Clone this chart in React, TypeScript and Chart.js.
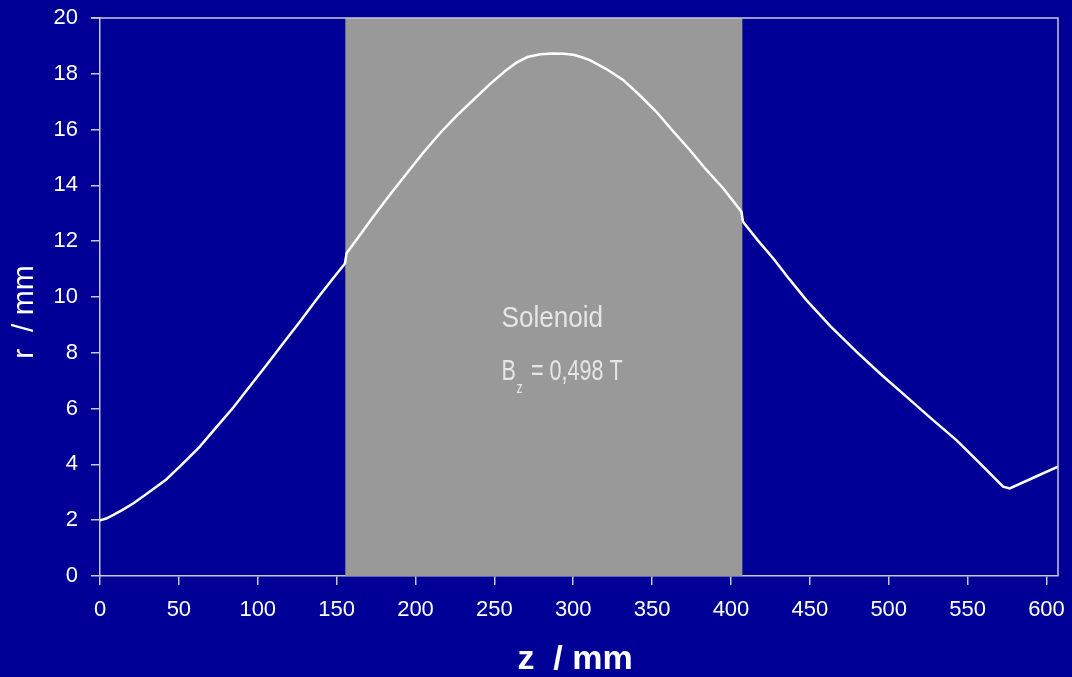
import React, { useEffect, useRef } from "react";
import { Chart, registerables } from "chart.js";

Chart.register(...registerables);

// Beam envelope radius r (mm) along the axis z (mm)
const zValues = [
  0, 4, 8.5, 14, 21, 31, 42, 52, 63, 73, 84.5, 95, 105.6, 116, 126.7, 137,
  147.8, 155.3, 156.3, 164, 173.2, 184, 194.4, 205, 215.5, 226, 236.6, 247,
  257.7, 264, 271, 279, 287.3, 294, 300, 305, 310.5, 321, 331.6, 342, 352.7,
  363, 373.9, 384, 395, 406.6, 407.6, 417, 426.7, 437, 447.8, 463, 479.5, 495,
  511.2, 527, 542.9, 558, 572.5, 576.7, 592, 607.3,
];
const rValues = [
  2.0, 2.06, 2.19, 2.36, 2.6, 3.0, 3.46, 4.0, 4.62, 5.28, 6.04, 6.8, 7.56,
  8.33, 9.11, 9.89, 10.67, 11.2, 11.57, 12.16, 12.88, 13.68, 14.43, 15.18,
  15.87, 16.49, 17.06, 17.62, 18.14, 18.4, 18.6, 18.7, 18.73, 18.72, 18.68,
  18.6, 18.49, 18.17, 17.78, 17.24, 16.64, 15.96, 15.27, 14.58, 13.9, 13.06,
  12.7, 12.03, 11.39, 10.64, 9.89, 8.96, 8.04, 7.23, 6.43, 5.64, 4.87, 4.03,
  3.2, 3.14, 3.53, 3.92,
];

// Solenoid extent along z (mm) and its field
const solenoidRange = [155.5, 407.2];
const solenoidName = "Solenoid";
const fieldSymbol = "B";
const fieldSub = "z";
const fieldValue = " = 0,498 T";

const xTitle = "z  / mm";
const yTitle = "r  / mm";

const BG = "#000096";
const AXIS = "#c8c8d8";
const FONT = "'Liberation Sans', Arial, sans-serif";

const decorPlugin = {
  id: "decor",
  beforeDraw(chart: any) {
    const { ctx, width, height } = chart;
    ctx.save();
    ctx.fillStyle = BG;
    ctx.fillRect(0, 0, width, height);
    ctx.restore();
  },
  beforeDatasetsDraw(chart: any) {
    const { ctx, chartArea, scales } = chart;
    const x = scales.x;
    const y = scales.y;
    const x0 = x.getPixelForValue(solenoidRange[0]);
    const x1 = x.getPixelForValue(solenoidRange[1]);
    ctx.save();
    ctx.fillStyle = "#999999";
    ctx.fillRect(x0, chartArea.top, x1 - x0, chartArea.bottom - chartArea.top);

    // solenoid caption, drawn in a condensed style
    ctx.fillStyle = "#e6e6e6";
    ctx.textBaseline = "alphabetic";
    ctx.textAlign = "left";
    const tx = x.getPixelForValue(254.5);

    ctx.save();
    ctx.translate(tx, y.getPixelForValue(8.93));
    ctx.scale(0.87, 1);
    ctx.font = `30px ${FONT}`;
    ctx.fillText(solenoidName, 0, 0);
    ctx.restore();

    ctx.save();
    ctx.translate(tx, y.getPixelForValue(7.03));
    ctx.scale(0.72, 1);
    ctx.font = `30px ${FONT}`;
    ctx.fillText(fieldSymbol, 0, 0);
    const bw = ctx.measureText(fieldSymbol).width;
    ctx.font = `17px ${FONT}`;
    ctx.fillText(fieldSub, bw + 1, 13);
    const sw = ctx.measureText(fieldSub).width;
    ctx.font = `30px ${FONT}`;
    ctx.fillText(fieldValue, bw + sw + 4, 0);
    ctx.restore();

    ctx.restore();
  },
  afterDraw(chart: any) {
    const { ctx, chartArea } = chart;
    ctx.save();
    // frame top and right
    ctx.strokeStyle = AXIS;
    ctx.lineWidth = 1.5;
    ctx.beginPath();
    ctx.moveTo(chartArea.left - 9, chartArea.top);
    ctx.lineTo(chartArea.right, chartArea.top);
    ctx.lineTo(chartArea.right, chartArea.bottom);
    ctx.stroke();

    // axis titles
    ctx.fillStyle = "#ffffff";
    ctx.textAlign = "center";
    ctx.textBaseline = "alphabetic";
    ctx.font = `bold 34px ${FONT}`;
    ctx.fillText(xTitle, 575, 669);
    ctx.translate(33, 312);
    ctx.rotate(-Math.PI / 2);
    ctx.font = `30px ${FONT}`;
    ctx.fillText(yTitle, 0, 0);
    ctx.restore();
  },
};

export default function App() {
  const ref = useRef<HTMLCanvasElement | null>(null);

  useEffect(() => {
    if (!ref.current) return;
    const chart = new Chart(ref.current, {
      type: "line",
      data: {
        datasets: [
          {
            data: zValues.map((z, i) => ({ x: z, y: rValues[i] })),
            borderColor: "#ffffff",
            borderWidth: 2.5,
            pointRadius: 0,
            tension: 0,
            fill: false,
          },
        ],
      },
      options: {
        animation: false,
        responsive: true,
        maintainAspectRatio: false,
        layout: { padding: { top: 18, right: 14, left: 0, bottom: 0 } },
        plugins: {
          legend: { display: false },
          tooltip: { enabled: false },
          title: { display: false },
        },
        scales: {
          x: {
            type: "linear",
            min: 0,
            max: 607.3,
            afterFit: (s: any) => {
              s.height = 101;
              s.paddingLeft = 0;
              s.paddingRight = 0;
            },
            ticks: {
              stepSize: 50,
              includeBounds: false,
              color: "#ffffff",
              font: { family: FONT, size: 22 },
              padding: 12,
              maxRotation: 0,
            },
            grid: {
              drawOnChartArea: false,
              drawTicks: true,
              tickLength: 9,
              color: AXIS,
              lineWidth: 1.5,
            },
            border: { color: AXIS, width: 1.5 },
          },
          y: {
            type: "linear",
            min: 0,
            max: 20,
            afterFit: (s: any) => {
              s.width = 100;
              s.paddingTop = 0;
              s.paddingBottom = 0;
            },
            ticks: {
              stepSize: 2,
              color: "#ffffff",
              font: { family: FONT, size: 22 },
              padding: 13,
            },
            grid: {
              drawOnChartArea: false,
              drawTicks: true,
              tickLength: 9,
              color: AXIS,
              lineWidth: 1.5,
            },
            border: { color: AXIS, width: 1.5 },
          },
        },
      },
      plugins: [decorPlugin],
    });
    return () => chart.destroy();
  }, []);

  return (
    <div
      style={{
        position: "absolute",
        left: 0,
        top: 0,
        width: 1072,
        height: 677,
        background: BG,
      }}
    >
      <canvas ref={ref} />
    </div>
  );
}
